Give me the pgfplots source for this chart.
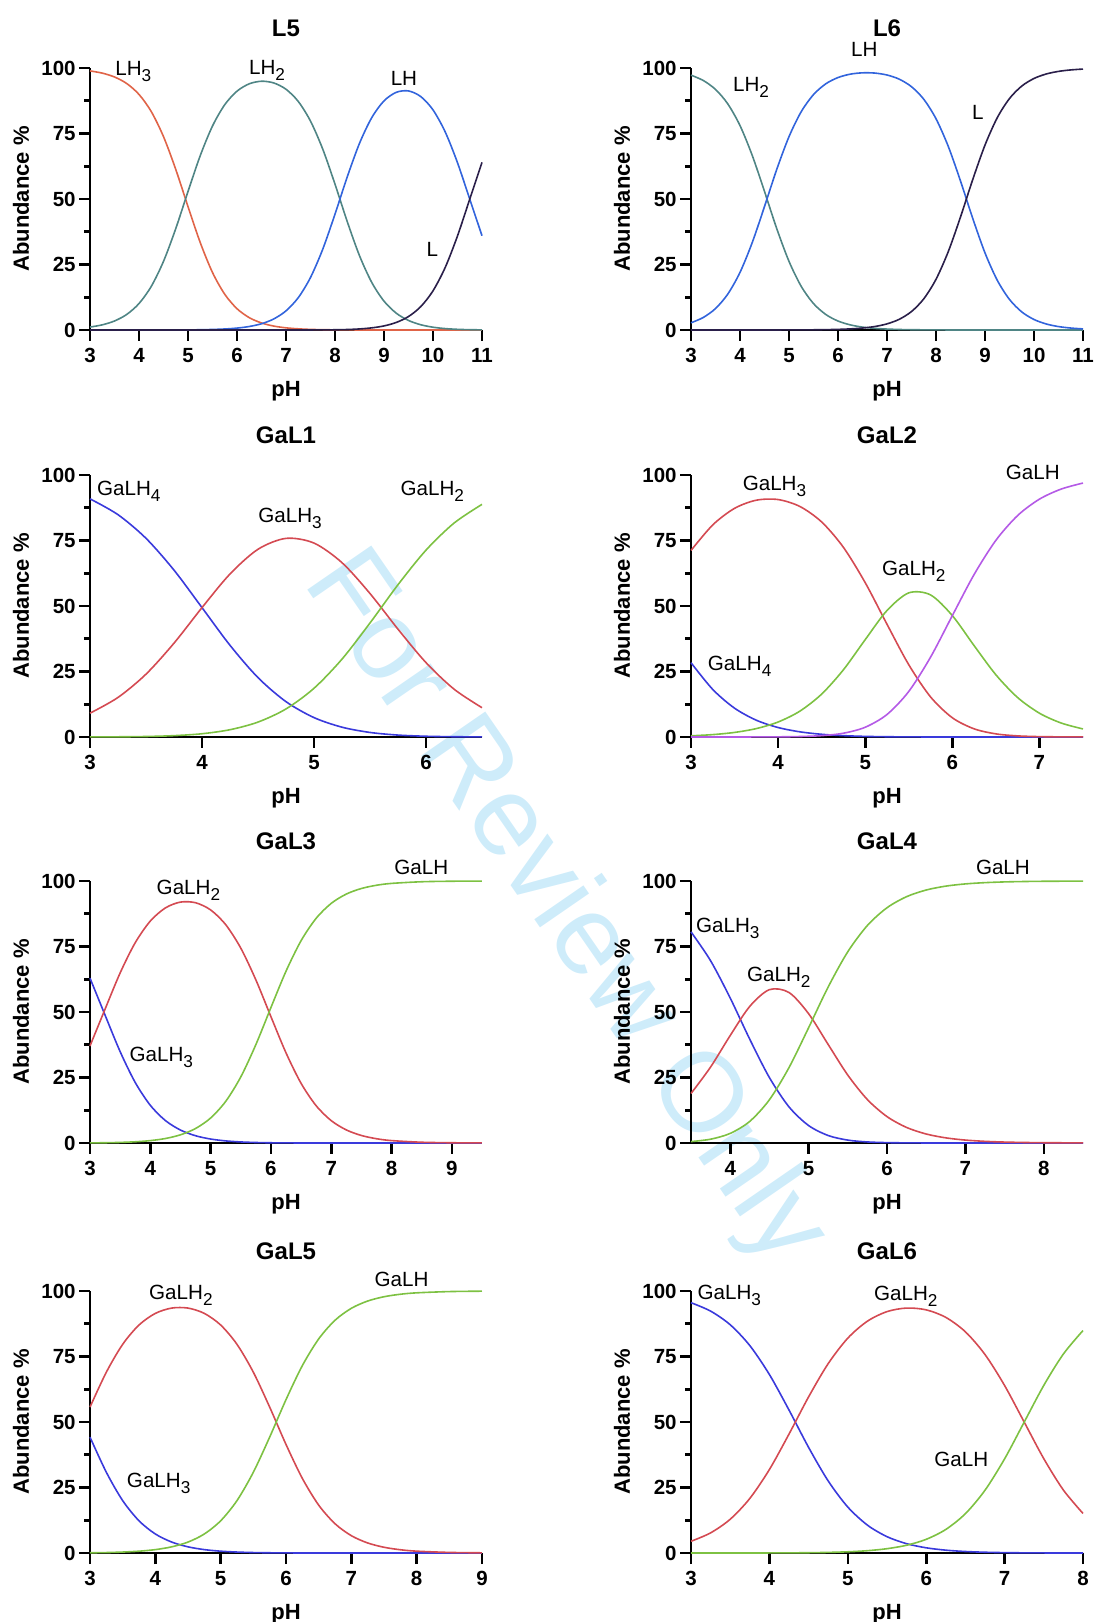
\documentclass[border=0pt]{standalone}
\usepackage{fontspec}
\setmainfont{Liberation Sans}
\usepackage{pgfplots}
\usepackage{pgfplotstable}
\pgfplotsset{compat=1.18}

\definecolor{cred}{HTML}{E06448}
\definecolor{cteal}{HTML}{4F8585}
\definecolor{cblue}{HTML}{3264DC}
\definecolor{cdark}{HTML}{2A1F4A}
\definecolor{gblue}{HTML}{3A3ADC}
\definecolor{gred}{HTML}{D44A52}
\definecolor{ggreen}{HTML}{7DC142}
\definecolor{gpurple}{HTML}{B45AE6}
\definecolor{wm}{RGB}{206,236,250}

\newcommand{\sub}[1]{\raisebox{-3pt}{\fontsize{8.6}{9}\selectfont #1}}

% L5: pH, LH3, LH2, LH, L
\pgfplotstableread{
ph A B C D
3.00 98.89 1.11 0.00 0.00
3.25 98.04 1.96 0.00 0.00
3.50 96.57 3.43 0.00 0.00
3.75 94.06 5.94 0.00 0.00
4.00 89.91 10.09 0.00 0.00
4.25 83.37 16.63 0.00 0.00
4.50 73.81 26.19 0.01 0.00
4.75 61.30 38.68 0.02 0.00
5.00 47.11 52.85 0.04 0.00
5.25 33.36 66.55 0.09 0.00
5.50 21.94 77.86 0.20 0.00
5.75 13.63 85.99 0.38 0.00
6.00 8.12 91.15 0.72 0.00
6.25 4.71 93.96 1.33 0.00
6.50 2.68 94.94 2.38 0.00
6.75 1.49 94.29 4.21 0.00
7.00 0.82 91.88 7.30 0.00
7.25 0.44 87.24 12.32 0.00
7.50 0.22 79.73 20.03 0.01
7.75 0.11 69.03 30.83 0.03
8.00 0.05 55.66 44.21 0.08
8.25 0.02 41.37 58.43 0.18
8.50 0.01 28.36 71.24 0.40
8.75 0.00 18.15 81.04 0.81
9.00 0.00 11.01 87.44 1.55
9.25 0.00 6.42 90.71 2.87
9.50 0.00 3.63 91.24 5.13
9.75 0.00 2.00 89.10 8.91
10.00 0.00 1.06 84.01 14.94
10.25 0.00 0.53 75.56 23.90
10.50 0.00 0.25 63.84 35.90
10.75 0.00 0.11 49.94 49.94
11.00 0.00 0.05 35.98 63.98
}\lfive

% L6: pH, LH2, LH, L
\pgfplotstableread{
ph A B C
3.00 97.26 2.74 0.00
3.25 95.23 4.77 0.00
3.50 91.82 8.18 0.00
3.75 86.32 13.68 0.00
4.00 78.02 21.98 0.00
4.25 66.61 33.39 0.00
4.50 52.87 47.13 0.00
4.75 38.68 61.31 0.01
5.00 26.19 73.79 0.02
5.25 16.63 83.34 0.04
5.50 10.08 89.85 0.07
5.75 5.93 93.95 0.13
6.00 3.42 96.35 0.23
6.25 1.95 97.64 0.42
6.50 1.10 98.15 0.74
6.75 0.62 98.06 1.32
7.00 0.35 97.32 2.33
7.25 0.19 95.73 4.08
7.50 0.10 92.85 7.04
7.75 0.06 88.07 11.88
8.00 0.03 80.63 19.34
8.25 0.01 70.09 29.90
8.50 0.01 56.86 43.13
8.75 0.00 42.57 57.43
9.00 0.00 29.42 70.58
9.25 0.00 18.99 81.01
9.50 0.00 11.65 88.35
9.75 0.00 6.90 93.10
10.00 0.00 4.00 96.00
10.25 0.00 2.29 97.71
10.50 0.00 1.30 98.70
10.75 0.00 0.74 99.26
11.00 0.00 0.41 99.59
}\lsix

% GaL1: pH, GaLH4, GaLH3, GaLH2
\pgfplotstableread{
ph A B C
3.00 90.89 9.09 0.02
3.25 84.85 15.09 0.07
3.50 75.83 23.98 0.19
3.75 63.69 35.81 0.51
4.00 49.38 49.38 1.24
4.25 35.00 62.22 2.78
4.50 22.66 71.65 5.69
4.75 13.48 75.81 10.71
5.00 7.40 74.01 18.59
5.25 3.74 66.53 29.72
5.50 1.73 54.76 43.51
5.75 0.73 41.15 58.12
6.00 0.28 28.39 71.32
6.25 0.10 18.27 81.63
6.50 0.04 11.18 88.79
}\galone

% GaL2: pH, GaLH4, GaLH3, GaLH2, GaLH
\pgfplotstableread{
ph A B C D
3.00 28.35 71.20 0.45 0.00
3.25 18.13 80.96 0.91 0.00
3.50 10.99 87.27 1.74 0.01
3.75 6.40 90.38 3.21 0.02
4.00 3.61 90.62 5.72 0.06
4.25 1.97 87.98 9.87 0.18
4.50 1.03 82.07 16.38 0.52
4.75 0.51 72.37 25.67 1.44
5.00 0.23 58.89 37.16 3.72
5.25 0.10 43.03 48.28 8.59
5.50 0.03 27.57 55.01 17.39
5.75 0.01 15.29 54.22 30.48
6.00 0.00 7.34 46.33 46.33
6.25 0.00 3.11 34.87 62.02
6.50 0.00 1.19 23.74 75.07
6.75 0.00 0.42 15.04 84.54
7.00 0.00 0.14 9.08 90.78
7.25 0.00 0.05 5.32 94.63
7.50 0.00 0.02 3.07 96.92
}\galtwo

% GaL3: pH, GaLH3, GaLH2, GaLH
\pgfplotstableread{
ph A B C
3.00 62.92 37.04 0.04
3.25 48.80 51.10 0.10
3.50 34.86 64.92 0.22
3.75 23.09 76.45 0.46
4.00 14.39 84.71 0.91
4.25 8.57 89.72 1.71
4.50 4.94 91.95 3.12
4.75 2.77 91.70 5.53
5.00 1.51 88.96 9.53
5.25 0.80 83.33 15.88
5.50 0.40 74.39 25.21
5.75 0.19 62.28 37.53
6.00 0.08 48.23 51.69
6.25 0.03 34.41 65.56
6.50 0.01 22.78 77.21
6.75 0.00 14.23 85.76
7.00 0.00 8.53 91.46
7.25 0.00 4.99 95.01
7.50 0.00 2.87 97.13
7.75 0.00 1.63 98.37
8.00 0.00 0.92 99.08
8.50 0.00 0.29 99.71
9.00 0.00 0.09 99.91
9.50 0.00 0.03 99.97
}\galthree

% GaL4: pH, GaLH3, GaLH2, GaLH
\pgfplotstableread{
ph A B C
3.50 80.58 18.89 0.53
3.75 69.55 29.00 1.45
4.00 55.33 41.02 3.66
4.25 39.57 52.16 8.27
4.50 24.97 58.53 16.50
4.75 13.78 57.44 28.78
5.00 6.66 49.35 43.99
5.25 2.85 37.58 59.57
5.50 1.10 25.90 73.00
5.75 0.40 16.57 83.03
6.00 0.14 10.07 89.79
6.25 0.05 5.93 94.02
6.50 0.01 3.43 96.56
6.75 0.00 1.96 98.04
7.00 0.00 1.11 98.89
7.25 0.00 0.63 99.37
7.50 0.00 0.35 99.65
7.75 0.00 0.20 99.80
8.00 0.00 0.11 99.89
8.50 0.00 0.04 99.96
}\galfour

% GaL5: pH, GaLH3, GaLH2, GaLH
\pgfplotstableread{
ph A B C
3.00 44.23 55.69 0.08
3.25 30.82 69.01 0.17
3.50 20.00 79.64 0.36
3.75 12.29 87.02 0.69
4.00 7.26 91.45 1.29
4.25 4.18 93.48 2.35
4.50 2.35 93.48 4.17
4.75 1.29 91.45 7.26
5.00 0.69 87.02 12.29
5.25 0.36 79.64 20.00
5.50 0.17 69.01 30.82
5.75 0.08 55.69 44.23
6.00 0.03 41.44 58.53
6.25 0.01 28.48 71.51
6.50 0.00 18.29 81.70
6.75 0.00 11.18 88.82
7.00 0.00 6.61 93.39
7.25 0.00 3.83 96.17
7.50 0.00 2.19 97.81
7.75 0.00 1.24 98.76
8.00 0.00 0.70 99.30
8.50 0.00 0.22 99.78
9.00 0.00 0.07 99.93
}\galfive

% GaL6: pH, GaLH3, GaLH2, GaLH
\pgfplotstableread{
ph A B C
3.00 95.53 4.47 0.00
3.25 92.32 7.68 0.00
3.50 87.12 12.88 0.00
3.75 79.17 20.82 0.01
4.00 68.12 31.86 0.02
4.25 54.57 45.39 0.05
4.50 40.30 59.60 0.11
4.75 27.49 72.29 0.23
5.00 17.53 82.01 0.46
5.25 10.64 88.48 0.88
5.50 6.23 92.13 1.64
5.75 3.55 93.49 2.96
6.00 1.98 92.80 5.22
6.25 1.08 89.93 8.99
6.50 0.57 84.42 15.01
6.75 0.29 75.75 23.96
7.00 0.14 63.92 35.94
7.25 0.06 49.97 49.97
7.50 0.02 35.99 63.99
7.75 0.01 24.02 75.97
8.00 0.00 15.10 84.90
}\galsix

\pgfplotsset{
  spec/.style={
    scale only axis, width=196pt, height=131pt, anchor=south west,
    axis lines=left, axis line style={-, line width=1.3pt, black},
    ymin=0, ymax=100, ytick={0,25,50,75,100},
    minor ytick={12.5,37.5,62.5,87.5},
    tick align=outside, major tick length=5.5pt, minor tick length=3pt,
    tick style={black, line width=1.3pt},
    tick label style={font=\fontsize{10.25}{11}\selectfont\bfseries},
    /pgf/number format/assume math mode=true,
    yticklabel style={inner xsep=1.5pt},
    ylabel={Abundance \%}, xlabel={pH},
    label style={font=\fontsize{11}{13}\selectfont\bfseries},
    ylabel style={at={(axis description cs:-0.176,0.5)}, anchor=center},
    xlabel style={at={(axis description cs:0.5,-0.233)}, anchor=center},
    every axis title shift=0pt,
    title style={at={(axis description cs:0.5,1.153)}, anchor=center,
      font=\fontsize{12}{14}\selectfont\bfseries},
    clip=false,
    every axis plot/.append style={line width=0.8pt, smooth, mark=none},
  }
}
\tikzset{sp/.style={anchor=base west, inner sep=0pt, font=\fontsize{10.3}{12}\selectfont}}

\begin{document}
\begin{tikzpicture}
\path[use as bounding box] (0,0) rectangle (547pt,811pt);

% watermark
\node[rotate=-55.4, text=wm, font=\fontsize{56.5}{66}\selectfont] at (282pt,356pt) {For Review Only};

% ---- row 1 ----
\begin{axis}[spec, at={(45pt,646pt)}, title={L5}, xmin=3, xmax=11, xtick={3,...,11}]
\addplot[cred] table[x=ph,y=A]{\lfive};
\addplot[cteal] table[x=ph,y=B]{\lfive};
\addplot[cblue] table[x=ph,y=C]{\lfive};
\addplot[cdark] table[x=ph,y=D]{\lfive};
\node[sp] at (axis cs:3.51,97.3) {LH\sub{3}};
\node[sp] at (axis cs:6.24,97.7) {LH\sub{2}};
\node[sp] at (axis cs:9.13,93.5) {LH};
\node[sp] at (axis cs:9.86,28.0) {L};
\end{axis}

\begin{axis}[spec, at={(345.5pt,646pt)}, title={L6}, xmin=3, xmax=11, xtick={3,...,11}]
\addplot[cteal] table[x=ph,y=A]{\lsix};
\addplot[cblue] table[x=ph,y=B]{\lsix};
\addplot[cdark] table[x=ph,y=C]{\lsix};
\node[sp] at (axis cs:3.85,91.0) {LH\sub{2}};
\node[sp] at (axis cs:6.26,104.3) {LH};
\node[sp] at (axis cs:8.73,80.4) {L};
\end{axis}

% ---- row 2 ----
\begin{axis}[spec, at={(45pt,442.5pt)}, title={GaL1}, xmin=3, xmax=6.5, xtick={3,...,6}]
\addplot[gblue] table[x=ph,y=A]{\galone};
\addplot[gred] table[x=ph,y=B]{\galone};
\addplot[ggreen] table[x=ph,y=C]{\galone};
\node[sp] at (axis cs:3.06,92.3) {GaLH\sub{4}};
\node[sp] at (axis cs:4.50,81.9) {GaLH\sub{3}};
\node[sp] at (axis cs:5.77,92.3) {GaLH\sub{2}};
\end{axis}

\begin{axis}[spec, at={(345.5pt,442.5pt)}, title={GaL2}, xmin=3, xmax=7.5, xtick={3,...,7}]
\addplot[gblue] table[x=ph,y=A]{\galtwo};
\addplot[gred] table[x=ph,y=B]{\galtwo};
\addplot[ggreen] table[x=ph,y=C]{\galtwo};
\addplot[gpurple] table[x=ph,y=D]{\galtwo};
\node[sp] at (axis cs:3.59,93.9) {GaLH\sub{3}};
\node[sp] at (axis cs:5.19,61.6) {GaLH\sub{2}};
\node[sp] at (axis cs:3.19,25.2) {GaLH\sub{4}};
\node[sp] at (axis cs:6.61,98.4) {GaLH};
\end{axis}

% ---- row 3 ----
\begin{axis}[spec, at={(45pt,239.5pt)}, title={GaL3}, xmin=3, xmax=9.5, xtick={3,...,9}]
\addplot[gblue] table[x=ph,y=A]{\galthree};
\addplot[gred] table[x=ph,y=B]{\galthree};
\addplot[ggreen] table[x=ph,y=C]{\galthree};
\node[sp] at (axis cs:4.10,95.0) {GaLH\sub{2}};
\node[sp] at (axis cs:8.04,102.3) {GaLH};
\node[sp] at (axis cs:3.65,31.1) {GaLH\sub{3}};
\end{axis}

\begin{axis}[spec, at={(345.5pt,239.5pt)}, title={GaL4}, xmin=3.5, xmax=8.5, xtick={4,...,8}]
\addplot[gblue] table[x=ph,y=A]{\galfour};
\addplot[gred] table[x=ph,y=B]{\galfour};
\addplot[ggreen] table[x=ph,y=C]{\galfour};
\node[sp] at (axis cs:3.56,80.3) {GaLH\sub{3}};
\node[sp] at (axis cs:4.21,61.8) {GaLH\sub{2}};
\node[sp] at (axis cs:7.13,102.3) {GaLH};
\end{axis}

% ---- row 4 ----
\begin{axis}[spec, at={(45pt,34.5pt)}, title={GaL5}, xmin=3, xmax=9, xtick={3,...,9}]
\addplot[gblue] table[x=ph,y=A]{\galfive};
\addplot[gred] table[x=ph,y=B]{\galfive};
\addplot[ggreen] table[x=ph,y=C]{\galfive};
\node[sp] at (axis cs:3.90,96.8) {GaLH\sub{2}};
\node[sp] at (axis cs:7.35,101.6) {GaLH};
\node[sp] at (axis cs:3.56,25.1) {GaLH\sub{3}};
\end{axis}

\begin{axis}[spec, at={(345.5pt,34.5pt)}, title={GaL6}, xmin=3, xmax=8, xtick={3,...,8}]
\addplot[gblue] table[x=ph,y=A]{\galsix};
\addplot[gred] table[x=ph,y=B]{\galsix};
\addplot[ggreen] table[x=ph,y=C]{\galsix};
\node[sp] at (axis cs:3.08,96.6) {GaLH\sub{3}};
\node[sp] at (axis cs:5.33,96.3) {GaLH\sub{2}};
\node[sp] at (axis cs:6.10,32.9) {GaLH};
\end{axis}
\end{tikzpicture}
\end{document}
